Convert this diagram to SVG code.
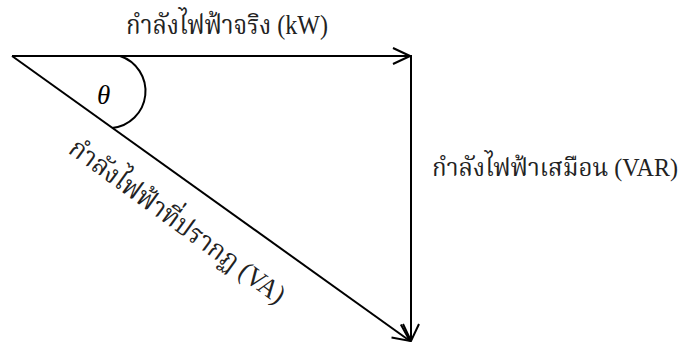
<svg xmlns="http://www.w3.org/2000/svg" width="688" height="349" viewBox="0 0 688 349">
<style>
.l{stroke:#000;stroke-width:2;fill:none}
.t{font-family:"Liberation Serif","Noto Serif Thai","Noto Sans Thai","DejaVu Sans",serif;font-size:27px;fill:#222}
</style>
<defs>
<marker id="ah" viewBox="0 0 20 20" refX="19" refY="10" markerWidth="20" markerHeight="20" markerUnits="userSpaceOnUse" orient="auto">
<path d="M2 2 L19 10 L2 18" fill="none" stroke="#000" stroke-width="2"/>
</marker>
</defs>
<rect width="688" height="349" fill="#fff"/>
<g id="connectors">
<line class="l" x1="12" y1="56" x2="410" y2="56" marker-end="url(#ah)"/>
<line class="l" x1="411" y1="55" x2="411" y2="341" marker-end="url(#ah)"/>
<line class="l" x1="12" y1="56" x2="410" y2="341" marker-end="url(#ah)"/>
<path class="l" d="M120 56 A37 37 0 0 1 112 128"/>
</g>
<g id="angle"><text x="97" y="104" style="font-family:'Liberation Serif',serif;font-style:italic;font-size:27px">θ</text></g>
<g id="real"><text class="t" x="126" y="34" textLength="202" lengthAdjust="spacingAndGlyphs">กำลังไฟฟ้าจริง (kW)</text></g>
<g id="reactive"><text class="t" x="432" y="176" textLength="246" lengthAdjust="spacingAndGlyphs" style="font-size:25px">กำลังไฟฟ้าเสมือน (VAR)</text></g>
<g id="apparent"><text class="t" transform="translate(67,152) rotate(36)" textLength="260" lengthAdjust="spacingAndGlyphs">กำลังไฟฟ้าที่ปรากฏ (VA)</text></g>
</svg>
